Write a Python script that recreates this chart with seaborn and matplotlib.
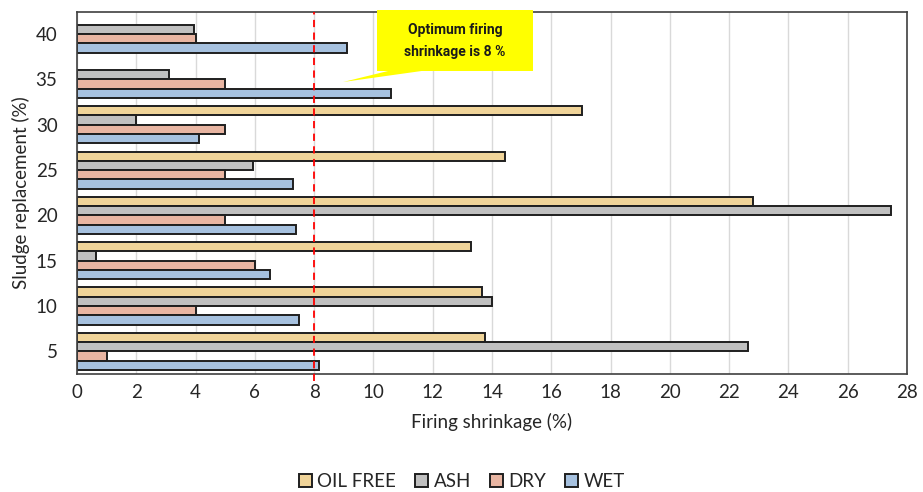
import numpy as np
import pandas as pd
import matplotlib
matplotlib.use("Agg")
import matplotlib.pyplot as plt
from matplotlib.patches import Polygon, Rectangle
import seaborn as sns

categories = ["40", "35", "30", "25", "20", "15", "10", "5"]
series_names = ["OIL FREE", "ASH", "DRY", "WET"]
oil_free = [np.nan, np.nan, 17.05, 14.45, 22.8, 13.3, 13.65, 13.75]
ash = [3.95, 3.1, 2.0, 5.95, 27.45, 0.65, 14.0, 22.65]
dry = [4.0, 5.0, 5.0, 5.0, 5.0, 6.0, 4.0, 1.0]
wet = [9.1, 10.6, 4.1, 7.3, 7.4, 6.5, 7.5, 8.15]
colors = ["#FFD98A", "#C0C0C0", "#F4B096", "#9DC0E8"]
optimum = 8
callout_text = "Optimum firing\nshrinkage is 8 %"

rows = []
for name, vals in zip(series_names, [oil_free, ash, dry, wet]):
    for c, v in zip(categories, vals):
        rows.append({"cat": c, "series": name, "value": v})
df = pd.DataFrame(rows)

sns.set_theme(style="white")
plt.rcParams["font.family"] = ["Lato", "DejaVu Sans"]

fig = plt.figure(figsize=(9.23, 4.92), dpi=100)
ax = fig.add_axes([77/923, 1-374/492, (907-77)/923, (374-11.5)/492])

sns.barplot(data=df, x="value", y="cat", hue="series", order=categories,
            hue_order=series_names, palette=colors, orient="h", width=0.82,
            edgecolor="#1f1f1f", linewidth=1.4, ax=ax, zorder=3)

ax.set_xlim(0, 28)
ax.set_ylim(7.5, -0.5)
ax.set_xticks(np.arange(0, 29, 2))
ax.grid(axis="x", color="#D9D9D9", linewidth=1, zorder=0)
ax.grid(axis="y", visible=False)
ax.tick_params(axis="both", labelsize=13.5, length=0, colors="#262626")
ax.tick_params(axis="x", pad=7)
ax.tick_params(axis="y", pad=14)
for s in ax.spines.values():
    s.set_color("#404040")
    s.set_linewidth(1.2)
    s.set_zorder(4)

ax.set_xlabel("Firing shrinkage (%)", fontsize=13.5, color="#262626", labelpad=9)
ax.set_ylabel("Sludge replacement (%)", fontsize=13.5, color="#262626", labelpad=4)

ax.axvline(optimum, ymin=-0.02, ymax=1, color="#FF0000", linestyle=(0, (4, 3)),
           linewidth=1.3, zorder=5, clip_on=False)

# callout (pixel-based positions converted to data)
def px(xp, yp):
    return ((xp - 77) / 29.64, -0.5 + (yp - 11.5) / 45.3)

x0, y0 = px(376.7, 10)
x1, y1 = px(533, 71)
rect = Rectangle((x0, y0), x1 - x0, y1 - y0, facecolor="#FFFF00", edgecolor="none",
                 zorder=6, clip_on=False)
ax.add_patch(rect)
tail = Polygon([px(390, 70.5), px(425, 70.5), px(343, 82)], closed=True,
               facecolor="#FFFF00", edgecolor="none", zorder=6, clip_on=False)
ax.add_patch(tail)
cx, cy = px(455, 41)
ax.text(cx, cy, callout_text, ha="center", va="center", fontsize=10,
        fontweight="bold", color="#1a1a1a", zorder=7, linespacing=1.7,
        family=["Roboto", "DejaVu Sans"], fontstretch="condensed")

leg = ax.legend(loc="center", bbox_to_anchor=(462/923, 0.021), bbox_transform=fig.transFigure,
                ncol=4, frameon=False, fontsize=13.5, handlelength=0.7, handleheight=0.7,
                handletextpad=0.3, columnspacing=1.0)
for t in leg.get_texts():
    t.set_color("#262626")

fig.savefig("out.png", dpi=100)
